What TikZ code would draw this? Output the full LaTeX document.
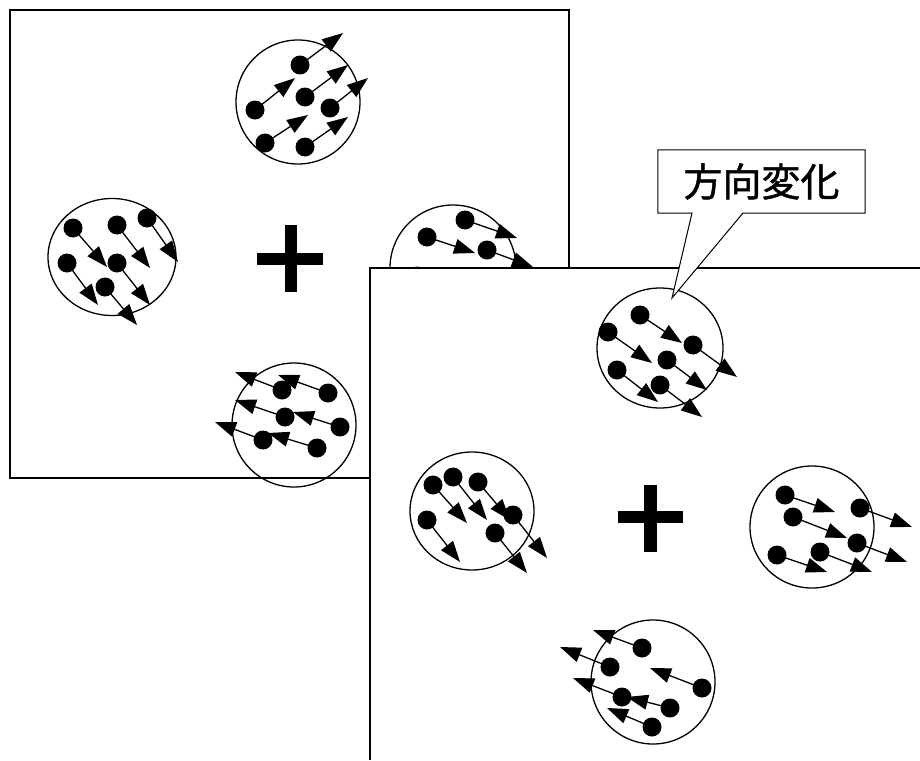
\documentclass[tikz,border=0pt]{standalone}
\usepackage{fontspec}
\newfontfamily\cjk[FakeBold=1.2]{Noto Sans CJK JP}
\usetikzlibrary{arrows.meta,shapes.geometric}
\tikzset{
  frame/.style={draw=black,fill=white,line width=1.1pt},
  cluster/.style={draw=black,ellipse,inner sep=0pt,line width=1.3pt},
  dot/.style={circle,fill=black,minimum size=19pt,inner sep=0pt},
  arr/.style={line width=1.3pt,-{Triangle[length=21pt,width=15pt]}},
  plusbar/.style={fill=black},
  callout/.style={draw=black,fill=white,line width=1pt,line join=miter},
  callouttext/.style={minimum width=207pt,minimum height=63pt,inner sep=0pt,font=\cjk\fontsize{39}{41}\selectfont}
}
\begin{document}
\begin{tikzpicture}[x=1pt,y=-1pt]
\useasboundingbox (0,0) rectangle (920,760);
\fill[white] (0,0) rectangle (920,760);

% ---------- left frame ----------
\draw[frame] (10,10) rectangle (569,478);

\node[cluster,minimum width=124pt,minimum height=124pt] (cA) at (298,102) {};
\node[cluster,minimum width=128pt,minimum height=117pt] (cB) at (112,257) {};
\node[cluster,minimum width=126pt,minimum height=126pt] (cC) at (453,268) {};
\node[cluster,minimum width=124pt,minimum height=124pt] (cD) at (294,425) {};

\def\leftdata{A1/300/65/343/33, A2/255/110/295/78, A3/305/97/348/65,
 A4/330/108/368/78, A5/265/143/308/115, A6/305/147/348/117,
 B1/73/228/107/267, B2/117/225/150/268, B3/147/218/178/262,
 B4/67/263/98/305, B5/117/263/150/305, B6/105/287/137/325,
 C1/465/220/517/238, C2/427/237/475/253, C3/487/250/533/267,
 C4/417/276/465/293,
 D1/282/390/235/372, D2/328/393/278/375, D3/285/417/235/400,
 D4/340/427/293/412, D5/263/440/215/422, D6/317/448/268/433}
\foreach \p/\x/\y/\tx/\ty in \leftdata {
  \node[dot] (\p) at (\x,\y) {};
  \coordinate (\p t) at (\tx,\ty);
}
\foreach \p/\x/\y/\tx/\ty in \leftdata {
  \draw[arr] (\p.center) -- (\p t);
}

\fill[plusbar] (285,225) rectangle (297,292);
\fill[plusbar] (257,253) rectangle (323,265);

% ---------- right frame ----------
\fill[white] (370,268) rectangle (920,760);
\coordinate (rb1) at (370,760);
\coordinate (rb2) at (370,268);
\coordinate (rb3) at (920,268);
\draw[line width=1.1pt] (rb1) -- (rb2) -- (rb3);

\node[cluster,minimum width=126pt,minimum height=120pt] (cE) at (660,348) {};
\node[cluster,minimum width=124pt,minimum height=118pt] (cF) at (472,511) {};
\node[cluster,minimum width=124pt,minimum height=122pt] (cG) at (812,527) {};
\node[cluster,minimum width=124pt,minimum height=124pt] (cH) at (653,682) {};

\def\rightdata{E1/640/315/682/343, E2/608/332/652/363, E3/693/345/737/377,
 E4/667/360/707/390, E5/617/370/658/402, E6/660/385/702/417,
 F1/433/485/467/523, F2/453/477/487/520, F3/478/482/510/520,
 F4/513/515/547/558, F5/427/520/460/562, F6/495/533/527/573,
 G1/785/495/835/512, G2/793/517/847/538, G3/860/508/912/527,
 G4/857/543/907/562, G5/777/555/827/572, G6/820/552/872/572,
 H1/642/648/593/630, H2/610/667/560/647, H3/702/688/650/668,
 H4/622/697/573/678, H5/670/708/627/697, H6/652/727/607/708}
\foreach \p/\x/\y/\tx/\ty in \rightdata {
  \node[dot] (\p) at (\x,\y) {};
  \coordinate (\p t) at (\tx,\ty);
}
\foreach \p/\x/\y/\tx/\ty in \rightdata {
  \draw[arr] (\p.center) -- (\p t);
}

\fill[plusbar] (644,485) rectangle (657,552);
\fill[plusbar] (618,511) rectangle (683,523);

% ---------- callout ----------
\node[callouttext] (lbl) at (761.5,181.5) {};
\coordinate (tailL) at (692,213);
\coordinate (tailR) at (743,213);
\coordinate (tip) at (672,298);
\draw[callout] (lbl.north west) -- (lbl.north east) -- (lbl.south east)
  -- (tailR) -- (tip) -- (tailL) -- (lbl.south west) -- cycle;
\node[callouttext] (lbltext) at (lbl.center) {方向変化};
\end{tikzpicture}
\end{document}
